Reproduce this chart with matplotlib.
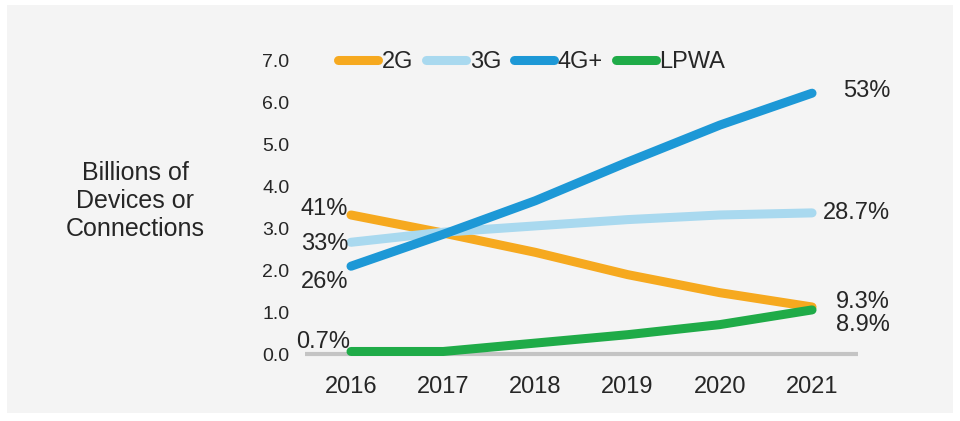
import matplotlib.pyplot as plt
from matplotlib.patches import Rectangle

plt.rcParams['font.family'] = ['Liberation Sans', 'DejaVu Sans']

years = ['2016', '2017', '2018', '2019', '2020', '2021']
series_names = ['2G', '3G', '4G+', 'LPWA']
g2 = [3.31, 2.88, 2.42, 1.89, 1.46, 1.12]
g3 = [2.66, 2.90, 3.05, 3.20, 3.31, 3.36]
g4 = [2.09, 2.85, 3.65, 4.57, 5.45, 6.21]
lpwa = [0.06, 0.06, 0.26, 0.46, 0.70, 1.05]
share_2016 = ['41%', '33%', '26%', '0.7%']
share_2021 = ['9.3%', '28.7%', '53%', '8.9%']
yticks = [0, 1, 2, 3, 4, 5, 6, 7]

colors = ['#f6a91f', '#a9d9ef', '#1d98d6', '#1fab48']
series = [g2, g3, g4, lpwa]

fig = plt.figure(figsize=(9.6, 4.21), dpi=100)
fig.patch.set_facecolor('white')
fig.patches.append(Rectangle((0.007, 0.02), 0.986, 0.968, transform=fig.transFigure,
                             facecolor='#f4f4f4', edgecolor='none', zorder=-10))

ax = fig.add_axes([0.3176, 0.1292, 0.5763, 0.7582])
ax.set_facecolor('none')
x = list(range(len(years)))

ax.axhline(0, color='#c4c4c4', lw=3, zorder=1)
for name, vals, c in zip(series_names, series, colors):
    ax.plot(x, vals, color=c, lw=6.5, solid_capstyle='round', label=name, zorder=3)

ax.set_xlim(-0.5, 5.5)
ax.set_ylim(-0.3, 7.3)
ax.set_xticks(x)
ax.set_xticklabels(years)
ax.set_yticks(yticks)
ax.set_yticklabels([f'{v:.1f}' for v in yticks])
ax.tick_params(axis='x', length=0, pad=7, labelsize=17, labelcolor='#262626')
ax.tick_params(axis='y', length=0, pad=11, labelsize=14, labelcolor='#262626')
for s in ax.spines.values():
    s.set_visible(False)

# share labels at the start and end of each line
left_offsets = [(-3, 6), (-3, -2), (-3, -16), (-1, 9)]
for vals, lab, off in zip(series, share_2016, left_offsets):
    ax.annotate(lab, (x[0], vals[0]), xytext=off, textcoords='offset pixels',
                ha='right', va='center', fontsize=17, color='#262626')
right_offsets = [(78, 5), (78, 0), (78, 2), (78, -15)]
for vals, lab, off in zip(series, share_2021, right_offsets):
    ax.annotate(lab, (x[-1], vals[-1]), xytext=off, textcoords='offset pixels',
                ha='right', va='center', fontsize=17, color='#262626')

fig.text(0.141, 1 - 201 / 421, 'Billions of\nDevices or\nConnections', ha='center',
         va='center', fontsize=18, color='#262626', linespacing=1.22)

ax.legend(ncol=4, frameon=False, loc='center left', bbox_to_anchor=(338 / 960, 1 - 62 / 421),
          bbox_transform=fig.transFigure, fontsize=17, handlelength=1.7, handletextpad=0.15,
          columnspacing=0.55, borderpad=0, borderaxespad=0, labelcolor='#262626')

fig.savefig('out.png', dpi=100)
